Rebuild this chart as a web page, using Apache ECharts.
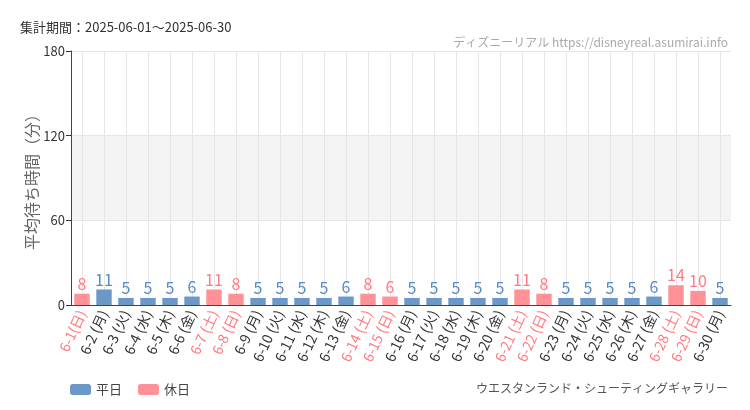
<!DOCTYPE html>
<html>
<head>
<meta charset="utf-8">
<script src="https://cdn.jsdelivr.net/npm/echarts@6/dist/echarts.min.js"></script>
<style>
  html, body { margin: 0; padding: 0; background: #fff; }
  #chart { width: 750px; height: 410px; }
</style>
</head>
<body>
<div id="chart"></div>
<script>
// 日付ラベル
var days = ["6-1(日)","6-2 (月)","6-3 (火)","6-4 (水)","6-5 (木)","6-6 (金)","6-7 (土)","6-8 (日)","6-9 (月)","6-10 (火)",
  "6-11 (水)","6-12 (木)","6-13 (金)","6-14 (土)","6-15 (日)","6-16 (月)","6-17 (火)","6-18 (水)","6-19 (木)","6-20 (金)",
  "6-21 (土)","6-22 (日)","6-23 (月)","6-24 (火)","6-25 (水)","6-26 (木)","6-27 (金)","6-28 (土)","6-29 (日)","6-30 (月)"];
// 休日フラグ
var holidayFlags = [1,0,0,0,0,0,1,1,0,0, 0,0,0,1,1,0,0,0,0,0, 1,1,0,0,0,0,0,1,1,0];
// 平均待ち時間（分）
var waitTimes = [8,11,5,5,5,6,11,8,5,5, 5,5,6,8,6,5,5,5,5,5, 11,8,5,5,5,5,6,14,10,5];
// y軸目盛
var yTicks = [0, 60, 120, 180];

var blue = "#6b98c7", pink = "#ff9197";
var blueText = "#5a8ac0", pinkText = "#ff7a82";

var weekdayData = waitTimes.map(function(v, i) { return holidayFlags[i] ? "-" : v; });
var holidayData = waitTimes.map(function(v, i) { return holidayFlags[i] ? v : "-"; });
// 縦グリッド線は各日の中心に引く
var dayCenters = days.map(function(d, i) { return i; });

var myChart = echarts.init(document.getElementById("chart"));
var option = {
  animation: false,
  textStyle: { fontFamily: "'Noto Sans CJK JP', sans-serif" },
  title: [
    {
      text: "集計期間：2025-06-01～2025-06-30",
      left: 15, top: 16,
      textStyle: { fontSize: 13, fontWeight: "normal", color: "#333" }
    },
    {
      text: "ディズニーリアル https://disneyreal.asumirai.info",
      right: 17, top: 31,
      textStyle: { fontSize: 12, fontWeight: "normal", color: "#aaa" }
    },
    {
      text: "ウエスタンランド・シューティングギャラリー",
      right: 17, top: 377,
      textStyle: { fontSize: 12, fontWeight: "normal", color: "#555" }
    }
  ],
  legend: {
    left: 65, top: 378,
    itemWidth: 21, itemHeight: 11, itemGap: 16,
    textStyle: { fontSize: 13, color: "#444" },
    data: ["平日", "休日"]
  },
  grid: { left: 71, right: 19, top: 51, bottom: 105 },
  xAxis: [
    {
      type: "category",
      data: days,
      axisLine: { lineStyle: { color: "#444" } },
      axisTick: { alignWithLabel: true, lineStyle: { color: "#333" } },
      splitLine: { show: false },
      axisLabel: {
        interval: 0, rotate: 65, fontSize: 14, margin: 6,
        color: function(value, index) { return holidayFlags[index] ? pinkText : "#333"; }
      }
    },
    {
      type: "value",
      position: "bottom",
      min: -0.5, max: days.length - 0.5,
      axisLine: { show: false },
      axisLabel: { show: false },
      axisTick: { show: false, customValues: dayCenters },
      splitLine: { show: true, lineStyle: { color: "#e6e6e6" } }
    }
  ],
  yAxis: {
    type: "value",
    min: yTicks[0], max: yTicks[yTicks.length - 1], interval: 60,
    name: "平均待ち時間（分）",
    nameLocation: "middle", nameGap: 31, nameMoveOverlap: false,
    nameTextStyle: { fontSize: 16, color: "#666" },
    axisLine: { show: true, onZero: false, lineStyle: { color: "#444" } },
    axisTick: { show: true, lineStyle: { color: "#333" } },
    axisLabel: { fontSize: 13, color: "#333", margin: 6 },
    splitLine: { lineStyle: { color: "#e6e6e6" } },
    splitArea: { show: true, areaStyle: { color: ["rgba(255,255,255,0)", "#f4f4f4"] } }
  },
  series: [
    {
      name: "平日", type: "bar", stack: "w", barWidth: "70%",
      data: weekdayData,
      itemStyle: { color: blue },
      label: { show: true, position: "top", distance: 2, color: blueText, fontSize: 16 }
    },
    {
      name: "休日", type: "bar", stack: "w", barWidth: "70%",
      data: holidayData,
      itemStyle: { color: pink },
      label: { show: true, position: "top", distance: 2, color: pinkText, fontSize: 16 }
    }
  ]
};
myChart.setOption(option);
</script>
</body>
</html>
